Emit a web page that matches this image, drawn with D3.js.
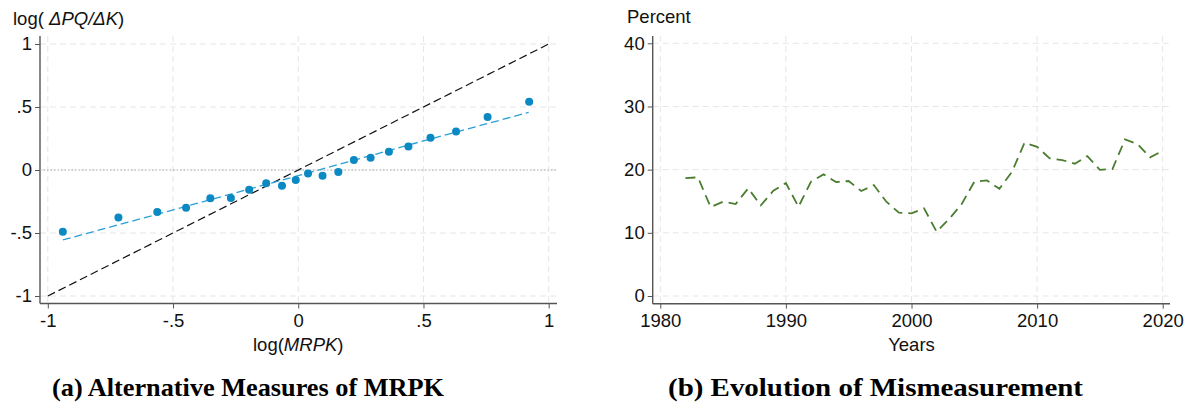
<!DOCTYPE html>
<html>
<head>
<meta charset="utf-8">
<script src="https://cdn.jsdelivr.net/npm/d3@7"></script>
<style>
  html, body { margin: 0; padding: 0; background: #fff; }
  svg { display: block; }
  .tick-label { font-family: "Liberation Sans", Arial, sans-serif; font-size: 18.5px; fill: #111; }
  .axis-title { font-family: "Liberation Sans", Arial, sans-serif; font-size: 18.5px; fill: #111; }
  .caption { font-family: "Liberation Serif", "Times New Roman", serif; font-weight: bold; font-size: 26px; fill: #000; }
</style>
</head>
<body>
<svg id="chart" width="1194" height="403"></svg>
<script>
// Panel (a): binned scatter of log(dPQ/dK) against log(MRPK)
const binX = [-0.94, -0.718, -0.563, -0.448, -0.351, -0.269, -0.196, -0.128, -0.065, -0.01,
              0.039, 0.097, 0.16, 0.222, 0.289, 0.362, 0.44, 0.528, 0.63, 0.756, 0.922];
const binY = [-0.49, -0.376, -0.333, -0.299, -0.225, -0.222, -0.156, -0.106, -0.125, -0.079,
              -0.027, -0.045, -0.016, 0.079, 0.098, 0.145, 0.187, 0.256, 0.306, 0.421, 0.542];
// fitted line, read at its ends and middle
const fitX = [-0.94, -0.5, 0, 0.5, 0.92];
const fitY = [-0.555, -0.317, -0.045, 0.231, 0.457];
// 45 degree reference
const refX = [-1, 1];
const refY = [-1, 1];
const ticksA = [-1, -0.5, 0, 0.5, 1];
const tickLabelsA = ['-1', '-.5', '0', '.5', '1'];

// Panel (b): share mismeasured, by year
const years = d3.range(1982, 2021);
const percent = [18.67, 18.78, 14.08, 14.92, 14.56, 17.04, 14.35, 16.66, 17.88, 14.13,
                 18.09, 19.25, 18.04, 18.2, 16.61, 17.56, 14.92, 13.18, 13.08, 13.87,
                 10.17, 12.2, 14.56, 18.09, 18.3, 16.98, 19.67, 24.26, 23.62, 21.79,
                 21.52, 20.94, 22.15, 19.98, 20.09, 24.79, 24.05, 21.95, 22.99];
const yearTicks = [1980, 1990, 2000, 2010, 2020];
const pctTicks = [0, 10, 20, 30, 40];

const svg = d3.select('#chart');
const gridColor = '#e6e6e6';
const axisColor = '#555';

function drawFrame(g, x, y, box, xt, yt, xfmt, yfmt) {
  // grid lines
  g.selectAll('.vgrid').data(xt).join('line')
    .attr('x1', d => x(d)).attr('x2', d => x(d))
    .attr('y1', box.top).attr('y2', box.bottom)
    .attr('stroke', gridColor).attr('stroke-width', 1).attr('stroke-dasharray', '6,4');
  g.selectAll('.hgrid').data(yt).join('line')
    .attr('x1', box.left).attr('x2', box.right)
    .attr('y1', d => y(d)).attr('y2', d => y(d))
    .attr('stroke', gridColor).attr('stroke-width', 1).attr('stroke-dasharray', '6,4');

  // axes
  const xa = g.append('g').attr('transform', `translate(0,${box.bottom})`)
    .call(d3.axisBottom(x).tickValues(xt).tickFormat(xfmt).tickSize(5).tickPadding(5));
  const ya = g.append('g').attr('transform', `translate(${box.left},0)`)
    .call(d3.axisLeft(y).tickValues(yt).tickFormat(yfmt).tickSize(5).tickPadding(3));
  for (const a of [xa, ya]) {
    a.select('.domain').remove();
    a.selectAll('line').attr('stroke', axisColor).attr('stroke-width', 1);
    a.selectAll('text').attr('class', 'tick-label').attr('fill', null);
  }
  g.append('line').attr('x1', box.left).attr('x2', box.right)
    .attr('y1', box.bottom).attr('y2', box.bottom)
    .attr('stroke', axisColor).attr('stroke-width', 1.4);
  g.append('line').attr('x1', box.left).attr('x2', box.left)
    .attr('y1', box.top).attr('y2', box.bottom)
    .attr('stroke', axisColor).attr('stroke-width', 1.4);
}

// ---------- panel (a)
{
  const box = { left: 40, right: 557, top: 36, bottom: 303.5 };
  const x = d3.scaleLinear().domain([-1, 1]).range([47.8, 548.7]);
  const y = d3.scaleLinear().domain([-1, 1]).range([296, 44]);
  const g = svg.append('g');
  drawFrame(g, x, y, box, ticksA, ticksA,
    (d, i) => tickLabelsA[i], (d, i) => tickLabelsA[i]);

  // zero line
  g.append('line').attr('x1', box.left).attr('x2', box.right)
    .attr('y1', y(0)).attr('y2', y(0))
    .attr('stroke', '#aaa').attr('stroke-width', 1).attr('stroke-dasharray', '1.5,2');

  const line = d3.line().x(d => x(d[0])).y(d => y(d[1]));
  g.append('path').attr('d', line(d3.zip(refX, refY)))
    .attr('fill', 'none').attr('stroke', '#111').attr('stroke-width', 1.2)
    .attr('stroke-dasharray', '8,4');
  g.append('path').attr('d', line(d3.zip(fitX, fitY)))
    .attr('fill', 'none').attr('stroke', '#2a9fd6').attr('stroke-width', 1.3)
    .attr('stroke-dasharray', '8,4');
  g.selectAll('circle').data(d3.zip(binX, binY)).join('circle')
    .attr('cx', d => x(d[0])).attr('cy', d => y(d[1])).attr('r', 4)
    .attr('fill', '#0b89c2');

  const yt = g.append('text').attr('class', 'axis-title').attr('x', 13).attr('y', 25);
  yt.append('tspan').text('log( ');
  yt.append('tspan').attr('font-style', 'italic').text('ΔPQ/ΔK');
  yt.append('tspan').text(')');

  const xt = g.append('text').attr('class', 'axis-title')
    .attr('x', x(0)).attr('y', 351).attr('text-anchor', 'middle');
  xt.append('tspan').text('log(');
  xt.append('tspan').attr('font-style', 'italic').text('MRPK');
  xt.append('tspan').text(')');
}

// ---------- panel (b)
{
  const box = { left: 652.7, right: 1170, top: 36, bottom: 303.7 };
  const x = d3.scaleLinear().domain([1980, 2020]).range([660.3, 1162.7]);
  const y = d3.scaleLinear().domain([0, 40]).range([296, 43.3]);
  const g = svg.append('g');
  drawFrame(g, x, y, box, yearTicks, pctTicks, d3.format('d'), d3.format('d'));

  const line = d3.line().x(d => x(d[0])).y(d => y(d[1]));
  g.append('path').attr('d', line(d3.zip(years, percent)))
    .attr('fill', 'none').attr('stroke', '#4b7d30').attr('stroke-width', 1.8)
    .attr('stroke-dasharray', '10,6');

  g.append('text').attr('class', 'axis-title').attr('x', 627).attr('y', 23).text('Percent');
  g.append('text').attr('class', 'axis-title')
    .attr('x', x(2000)).attr('y', 351).attr('text-anchor', 'middle').text('Years');
}

// ---------- captions
svg.append('text').attr('class', 'caption').attr('x', 52).attr('y', 396)
  .attr('textLength', 392).attr('lengthAdjust', 'spacingAndGlyphs')
  .text('(a) Alternative Measures of MRPK');
svg.append('text').attr('class', 'caption').attr('x', 668).attr('y', 396)
  .attr('textLength', 415).attr('lengthAdjust', 'spacingAndGlyphs')
  .text('(b) Evolution of Mismeasurement');
</script>
</body>
</html>
